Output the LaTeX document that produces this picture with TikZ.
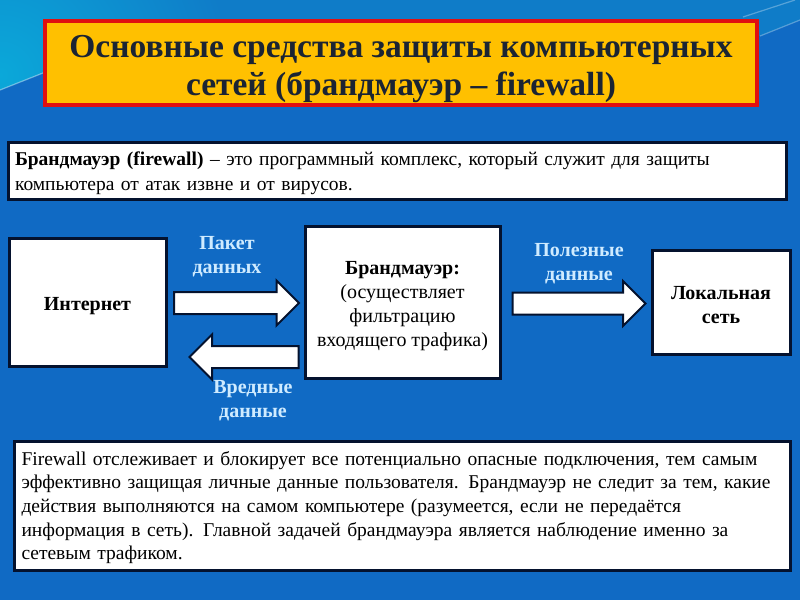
\documentclass[tikz,border=0pt]{standalone}
\usepackage{fontspec}
\setmainfont{Liberation Serif}
\usetikzlibrary{shapes.arrows,shadows}
\definecolor{bgblue}{HTML}{106AC4}
\definecolor{bgtop}{HTML}{0F7CC8}
\definecolor{bgcyan}{HTML}{0BA8D9}
\definecolor{titlefill}{HTML}{FFC000}
\definecolor{titleline}{HTML}{E01010}
\definecolor{titletext}{HTML}{1B2433}
\definecolor{framec}{HTML}{04122E}
\definecolor{lab}{HTML}{CFEBFF}
\newcommand{\firstline}[1]{\rule{0pt}{#1pt}}
\tikzset{
  whitebox/.style={draw=framec,fill=white,line width=3pt,inner sep=0pt},
  bigarrow/.style={single arrow,draw=framec,fill=white,line width=2pt,inner xsep=0pt,inner ysep=0pt,
    text height=20pt,text depth=0pt,text width=0pt,
    single arrow head extend=11.5pt,minimum height=#1,anchor=center},
  flowlabel/.style={font=\fontsize{20}{24}\selectfont\bfseries,text=lab,align=center},
  boxtext/.style={font=\fontsize{20}{24}\selectfont,align=center,text=black}
}
\begin{document}
\begin{tikzpicture}[x=1pt,y=-1pt]
\useasboundingbox (0,0) rectangle (800,600);
\fill[bgblue] (0,0) rectangle (800,600);
\begin{scope}
\clip (0,90) -- (43,73) -- (200,40) -- (760,36) -- (800,20) -- (800,0) -- (0,0) -- cycle;
\fill[bgtop] (0,0) rectangle (800,100);
\shade[inner color=bgcyan,outer color=bgtop] (0,75) circle[radius=230pt];
\end{scope}
\draw[white,opacity=.4,line width=1.2pt] (0,90) -- (43,73);
\draw[white,opacity=.3,line width=1.2pt] (743,17) -- (795,0);
\draw[white,opacity=.3,line width=1.2pt] (760,36) -- (800,20);
% title
\node[draw=titleline,fill=titlefill,line width=3.5pt,minimum width=712pt,minimum height=84pt,inner sep=0pt,
  font=\fontsize{33.5}{38}\selectfont\bfseries,text=titletext,align=center,drop shadow={opacity=.25,shadow xshift=1pt,shadow yshift=-1pt}]
  (title) at (401,63) {\firstline{35}Основные средства защиты компьютерных\\сетей (брандмауэр – firewall)};
% definition
\node[whitebox,minimum width=778pt,minimum height=57pt,text width=764pt,align=left,
  font=\fontsize{19.5}{25}\selectfont] (def) at (397,171)
  {\firstline{17.5}\textbf{Брандмауэр (firewall)} – это программный комплекс, который служит для защиты\\компьютера от атак извне и от вирусов.};
% main boxes
\node[whitebox,minimum width=157pt,minimum height=128pt,boxtext] (net) at (87.5,302.5) {\firstline{19.6}\textbf{Интернет}};
\node[whitebox,minimum width=195pt,minimum height=152pt,boxtext] (fw) at (402.5,302.5)
  {\firstline{19.6}\textbf{Брандмауэр:}\\(осуществляет\\фильтрацию\\входящего трафика)};
\node[whitebox,minimum width=138pt,minimum height=104pt,boxtext] (lan) at (721,302.5) {\firstline{17.6}\textbf{Локальная}\\\textbf{сеть}};
% arrows
\node[bigarrow=125pt] (a1) at (231,303) {};
\node[bigarrow=109pt,shape border rotate=180] (a2) at (249.5,357) {};
\node[bigarrow=133pt] (a3) at (573.5,303.5) {};
% labels
\node[flowlabel] (l1) at (227,257) {Пакет\\данных};
\node[flowlabel] (l2) at (253,400.5) {Вредные\\данные};
\node[flowlabel] (l3) at (579,264) {Полезные\\данные};
% bottom
\node[whitebox,minimum width=776pt,minimum height=129pt,text width=762pt,align=left,
  font=\fontsize{19.5}{23.7}\selectfont] (txt) at (402.5,505.5)
  {\firstline{18}Firewall отслеживает и блокирует все потенциально опасные подключения, тем самым\\
эффективно защищая личные данные пользователя. Брандмауэр не следит за тем, какие\\
действия выполняются на самом компьютере (разумеется, если не передаётся\\
информация в сеть). Главной задачей брандмауэра является наблюдение именно за\\
сетевым трафиком.};
\end{tikzpicture}
\end{document}
